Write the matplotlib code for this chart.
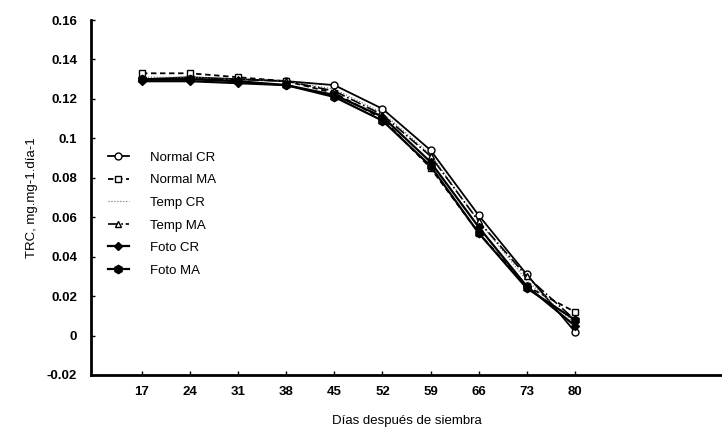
import numpy as np
import matplotlib
matplotlib.use("Agg")
import matplotlib.pyplot as plt

# datos
dias = ["17", "24", "31", "38", "45", "52", "59", "66", "73", "80"]
normal_cr = [0.130, 0.131, 0.130, 0.129, 0.127, 0.115, 0.094, 0.061, 0.031, 0.002]
normal_ma = [0.133, 0.133, 0.131, 0.129, 0.123, 0.110, 0.085, 0.052, 0.025, 0.012]
temp_cr = [0.131, 0.131, 0.130, 0.129, 0.125, 0.113, 0.092, 0.058, 0.028, 0.006]
temp_ma = [0.130, 0.130, 0.130, 0.129, 0.124, 0.112, 0.091, 0.058, 0.030, 0.008]
foto_cr = [0.129, 0.129, 0.128, 0.127, 0.122, 0.111, 0.088, 0.055, 0.025, 0.005]
foto_ma = [0.130, 0.130, 0.129, 0.127, 0.121, 0.109, 0.086, 0.052, 0.024, 0.008]
yticks = [-0.02, 0, 0.02, 0.04, 0.06, 0.08, 0.1, 0.12, 0.14, 0.16]

plt.rcParams['font.family'] = ['Liberation Sans', 'DejaVu Sans']

fig = plt.figure(figsize=(7.22, 4.36), dpi=100)
ax = fig.add_axes([0.126, 0.14, 0.874, 0.814])

x = np.arange(len(dias))
ax.plot(x, normal_cr, color="black", lw=1.3, marker="o", ms=5, mfc="white", mec="black", label="Normal CR")
ax.plot(x, normal_ma, color="black", lw=1.3, ls=(0, (3, 2)), marker="s", ms=5, mfc="white", mec="black", label="Normal MA")
ax.plot(x, temp_cr, color="#666666", lw=0.8, ls=":", label="Temp CR")
ax.plot(x, temp_ma, color="black", lw=1.2, ls="-.", marker="^", ms=4, mfc="white", mec="black", label="Temp MA")
ax.plot(x, foto_cr, color="black", lw=1.6, marker="D", ms=4.5, label="Foto CR")
ax.plot(x, foto_ma, color="black", lw=1.6, marker="h", ms=6, label="Foto MA")

ax.set_xlim(-1.06, 12.06)
ax.set_ylim(-0.02, 0.16)
ax.set_xticks(x)
ax.set_xticklabels(dias)
ax.set_yticks(yticks)
ax.set_yticklabels([f"{v:g}" for v in yticks])

for s in ["top", "right"]:
    ax.spines[s].set_visible(False)
ax.spines["left"].set_linewidth(2)
ax.spines["bottom"].set_linewidth(2)
ax.tick_params(direction="in", length=3, width=1, labelsize=9.5)
for t in ax.get_xticklabels() + ax.get_yticklabels():
    t.set_fontweight("bold")
ax.tick_params(axis="x", pad=8)
ax.tick_params(axis="y", pad=10)

ax.set_xlabel("Días después de siembra", fontsize=9.5, labelpad=12)
ax.set_ylabel("TRC, mg.mg-1.día-1", fontsize=9.5, labelpad=6)

ax.legend(loc="upper left", bbox_to_anchor=(0.012, 0.655), frameon=False,
          fontsize=9.5, handlelength=1.6, labelspacing=0.78, handletextpad=1.6,
          borderaxespad=0.3)

fig.savefig("out.png", dpi=100)
